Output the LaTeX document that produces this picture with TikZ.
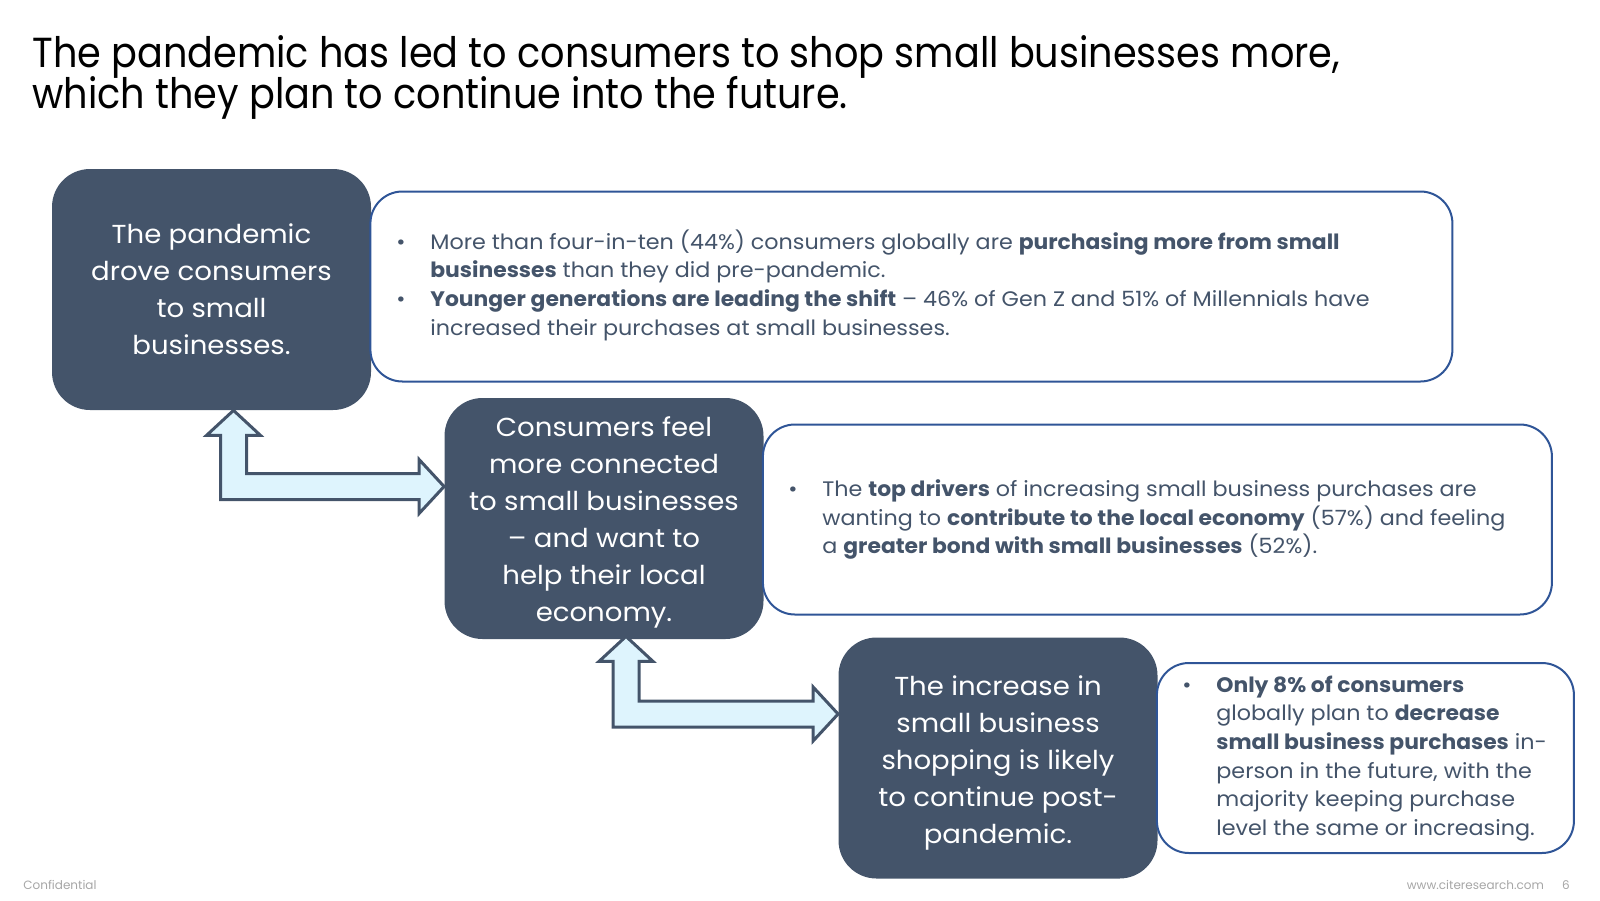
\documentclass[tikz,border=0pt]{standalone}
\usepackage{fontspec}
\setmainfont{Poppins}
\newfontfamily\titlefont[FakeStretch=0.91]{Poppins}
\newfontfamily\boxfont[FakeStretch=1.06]{Poppins}
\newfontfamily\notefont[FakeStretch=1.06,BoldFeatures={FakeStretch=1.04}]{Poppins}
\usepackage{tikz}
\usetikzlibrary{positioning,calc}
\definecolor{slate}{HTML}{44546A}
\definecolor{rimblue}{HTML}{2F5597}
\definecolor{icefill}{HTML}{DEF4FD}
\definecolor{footgray}{HTML}{A6A6A6}
\newcommand\titleface{\titlefont\fontsize{21}{20.5}\selectfont\lineskiplimit=-50pt\relax}
\newcommand\bul{\makebox[17pt][l]{\textbullet}}
\newcommand\hang{\hspace*{17pt}}
\newcommand\notelines[2]{\makebox[#1][l]{\begin{tabular}{@{}l@{}}#2\end{tabular}}}
\newcommand\sunk[2]{\raisebox{#1}[\height][\depth]{\begin{tabular}{@{}c@{}}#2\end{tabular}}}
\newcommand\lbarrow[2]{\draw[barrow] let \p1=(#1), \p2=(#2) in
  (\x1,\y1) -- (\x1+13.5pt,\y1-12.5pt) -- (\x1+6.5pt,\y1-12.5pt) -- (\x1+6.5pt,\y2+6.5pt)
  -- (\x2-12.5pt,\y2+6.5pt) -- (\x2-12.5pt,\y2+13.5pt) -- (\x2,\y2) -- (\x2-12.5pt,\y2-13.5pt)
  -- (\x2-12.5pt,\y2-6.5pt) -- (\x1-6.5pt,\y2-6.5pt) -- (\x1-6.5pt,\y1-12.5pt)
  -- (\x1-13.5pt,\y1-12.5pt) -- cycle;}

\begin{document}
\begin{tikzpicture}[x=0.5pt,y=-0.5pt,
  darkbox/.style={rectangle,rounded corners=19pt,fill=slate,text=white,minimum width=159.5pt,
    minimum height=120.5pt,inner sep=0pt,align=center,font=\boxfont\fontsize{13}{18.5}\selectfont},
  notebox/.style={rectangle,rounded corners=16pt,draw=rimblue,line width=1pt,fill=white,text=slate,
    inner xsep=12.5pt,inner ysep=0pt,minimum height=95pt,font=\notefont\fontsize{10.5}{14.35}\selectfont},
  barrow/.style={draw=slate,fill=icefill,line width=1.5pt,line join=miter},
  footer/.style={text=footgray,font=\fontsize{6}{7}\selectfont,inner sep=0pt}]
  \useasboundingbox (0,0) rectangle (1600,900);

  \node[anchor=base west,inner sep=0pt,align=left,font=\titleface] (title) at (32,108.5)
    {The pandemic has led to consumers to shop small businesses more,\\which they plan to continue into the future.};

  \node[darkbox] (pand) at (211.5,289.5) {The pandemic\\drove consumers\\to small\\businesses.};
  \node[darkbox] (conn) at (604,518.5) {\sunk{-1.75pt}{Consumers feel\\more connected\\to small businesses\\\textendash{} and want to\\help their local\\economy.}};
  \node[darkbox] (cont) at (998,758) {\sunk{-2pt}{The increase in\\small business\\shopping is likely\\to continue post-\\pandemic.}};

  \node[notebox,minimum width=541pt,right=-1pt of pand,yshift=1.5pt] (pandtxt) {\notelines{515pt}{%
    \bul More than four-in-ten (44\%) consumers globally are \textbf{purchasing more from small}\\
    \hang\textbf{businesses} than they did pre-pandemic.\\
    \bul\textbf{Younger generations are leading the shift} \textendash{} 46\% of Gen Z and 51\% of Millennials have\\
    \hang increased their purchases at small businesses.}};
  \node[notebox,minimum width=394.5pt,right=-1pt of conn,yshift=-0.5pt] (conntxt) {\notelines{369pt}{%
    \bul The \textbf{top drivers} of increasing small business purchases are\\
    \hang wanting to \textbf{contribute to the local economy} (57\%) and feeling\\
    \hang a \textbf{greater bond with small businesses} (52\%).}};
  \node[notebox,minimum width=208.5pt,right=-1pt of cont] (conttxt) {\notelines{183pt}{%
    \bul\textbf{Only 8\% of consumers}\\
    \hang globally plan to \textbf{decrease}\\
    \hang\textbf{small business purchases} in-\\
    \hang person in the future, with the\\
    \hang majority keeping purchase\\
    \hang level the same or increasing.}};

  \coordinate (up1) at ([xshift=11pt]pand.south);
  \coordinate (rt1) at ([yshift=16pt]conn.west);
  \coordinate (up2) at ([xshift=11pt,yshift=1.5pt]conn.south);
  \coordinate (rt2) at ([yshift=22pt]cont.west);
  \lbarrow{up1}{rt1}
  \lbarrow{up2}{rt2}

  \node[footer,anchor=base west] (conf) at (23,889) {Confidential};
  \node[footer,anchor=base east] (site) at (1570,889) {www.citeresearch.com\hspace{9pt}6};
\end{tikzpicture}
\end{document}
